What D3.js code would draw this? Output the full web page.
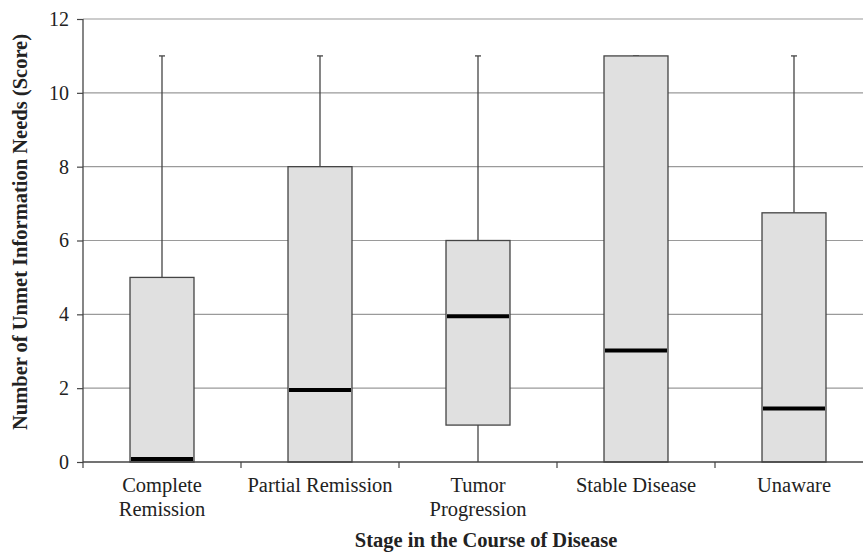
<!DOCTYPE html>
<html>
<head>
<meta charset="utf-8">
<script src="https://cdn.jsdelivr.net/npm/d3@7"></script>
<style>
  body { margin: 0; background: #fff; }
</style>
</head>
<body>
<script>
// box plot data
const stages = ["Complete Remission", "Partial Remission", "Tumor Progression", "Stable Disease", "Unaware"];
const stageLines = [["Complete", "Remission"], ["Partial Remission"], ["Tumor", "Progression"], ["Stable Disease"], ["Unaware"]];
const minVals = [0, 0, 0, 0, 0];
const q1Vals = [0, 0, 1, 0, 0];
const medianVals = [0.08, 1.95, 3.95, 3.02, 1.45];
const q3Vals = [5, 8, 6, 11, 6.75];
const maxVals = [11, 11, 11, 11, 11];
const yTicks = [0, 2, 4, 6, 8, 10, 12];

const FONT = "'Liberation Serif', 'Times New Roman', Times, serif";

const width = 863;
const height = 553;
const margin = { top: 19, right: -10, bottom: 91, left: 83 };

const svg = d3.select("body")
  .append("svg")
  .attr("width", width)
  .attr("height", height)
  .style("font-family", FONT);

const xScale = d3.scaleBand()
  .domain(stages)
  .range([margin.left, width - margin.right]);

const yScale = d3.scaleLinear()
  .domain([0, 12])
  .range([height - margin.bottom, margin.top]);

// gridlines
svg.append("g")
  .selectAll("line")
  .data(yTicks.filter(d => d > 0))
  .enter()
  .append("line")
  .attr("x1", margin.left)
  .attr("x2", width)
  .attr("y1", d => yScale(d))
  .attr("y2", d => yScale(d))
  .attr("stroke", "#9a9a9a")
  .attr("stroke-width", 1.2);

const data = stages.map((s, i) => ({
  stage: s, min: minVals[i], q1: q1Vals[i], med: medianVals[i], q3: q3Vals[i], max: maxVals[i]
}));

const boxW = xScale.bandwidth() * 0.405;
const cx = d => xScale(d.stage) + xScale.bandwidth() / 2;

const boxes = svg.append("g");

// upper whiskers
boxes.selectAll(".whisk-up")
  .data(data)
  .enter()
  .append("line")
  .attr("x1", cx).attr("x2", cx)
  .attr("y1", d => yScale(d.q3))
  .attr("y2", d => yScale(d.max))
  .attr("stroke", "#444")
  .attr("stroke-width", 1.3);

// caps
boxes.selectAll(".cap")
  .data(data)
  .enter()
  .append("line")
  .attr("x1", d => cx(d) - 3).attr("x2", d => cx(d) + 3)
  .attr("y1", d => yScale(d.max))
  .attr("y2", d => yScale(d.max))
  .attr("stroke", "#444")
  .attr("stroke-width", 1.3);

// lower whiskers
boxes.selectAll(".whisk-down")
  .data(data.filter(d => d.q1 > d.min))
  .enter()
  .append("line")
  .attr("x1", cx).attr("x2", cx)
  .attr("y1", d => yScale(d.min))
  .attr("y2", d => yScale(d.q1))
  .attr("stroke", "#444")
  .attr("stroke-width", 1.3);

boxes.selectAll(".box")
  .data(data)
  .enter()
  .append("rect")
  .attr("x", d => cx(d) - boxW / 2)
  .attr("y", d => yScale(d.q3))
  .attr("width", boxW)
  .attr("height", d => yScale(d.q1) - yScale(d.q3))
  .attr("fill", "#e0e0e0")
  .attr("stroke", "#444")
  .attr("stroke-width", 1.3);

boxes.selectAll(".median")
  .data(data)
  .enter()
  .append("line")
  .attr("x1", d => cx(d) - boxW / 2 + 1)
  .attr("x2", d => cx(d) + boxW / 2 - 1)
  .attr("y1", d => yScale(d.med))
  .attr("y2", d => yScale(d.med))
  .attr("stroke", "#000")
  .attr("stroke-width", 4);

// y axis
const yAxis = d3.axisLeft(yScale)
  .tickValues(yTicks)
  .tickSize(6)
  .tickPadding(8);

const yg = svg.append("g")
  .attr("transform", `translate(${margin.left}, 0)`)
  .call(yAxis)
  .attr("font-family", null)
  .attr("font-size", null);
yg.select(".domain").attr("stroke", "#444").attr("stroke-width", 1.3).attr("d", `M0,${yScale(12)}V${yScale(0)}`);
yg.selectAll(".tick line").attr("stroke", "#444").attr("stroke-width", 1.2);
yg.selectAll(".tick text")
  .style("font-family", FONT)
  .style("font-size", "20px")
  .attr("fill", "#222");

// x axis
const xg = svg.append("g")
  .attr("transform", `translate(0, ${yScale(0)})`);
xg.append("line")
  .attr("x1", margin.left)
  .attr("x2", width)
  .attr("stroke", "#444")
  .attr("stroke-width", 1.3);
xg.selectAll(".xtick")
  .data(stages)
  .enter()
  .append("line")
  .attr("x1", d => xScale(d))
  .attr("x2", d => xScale(d))
  .attr("y1", 0)
  .attr("y2", 6)
  .attr("stroke", "#444")
  .attr("stroke-width", 1.2);

xg.selectAll(".xlabel")
  .data(stages)
  .enter()
  .append("text")
  .attr("text-anchor", "middle")
  .attr("x", d => xScale(d) + xScale.bandwidth() / 2)
  .attr("y", 30)
  .attr("fill", "#222")
  .style("font-family", FONT)
  .style("font-size", "20.5px")
  .each(function(d, i) {
    d3.select(this).selectAll("tspan")
      .data(stageLines[i])
      .enter()
      .append("tspan")
      .attr("x", xScale(d) + xScale.bandwidth() / 2)
      .attr("dy", (t, j) => j === 0 ? 0 : 24)
      .text(t => t);
  });

// axis titles
svg.append("text")
  .attr("x", 486)
  .attr("y", 547)
  .attr("text-anchor", "middle")
  .attr("fill", "#222")
  .style("font-family", FONT)
  .style("font-size", "20.5px")
  .style("font-weight", "bold")
  .text("Stage in the Course of Disease");

svg.append("text")
  .attr("transform", `translate(27, 232) rotate(-90)`)
  .attr("text-anchor", "middle")
  .attr("fill", "#222")
  .style("font-family", FONT)
  .style("font-size", "20.5px")
  .style("font-weight", "bold")
  .text("Number of Unmet Information Needs (Score)");
</script>
</body>
</html>
